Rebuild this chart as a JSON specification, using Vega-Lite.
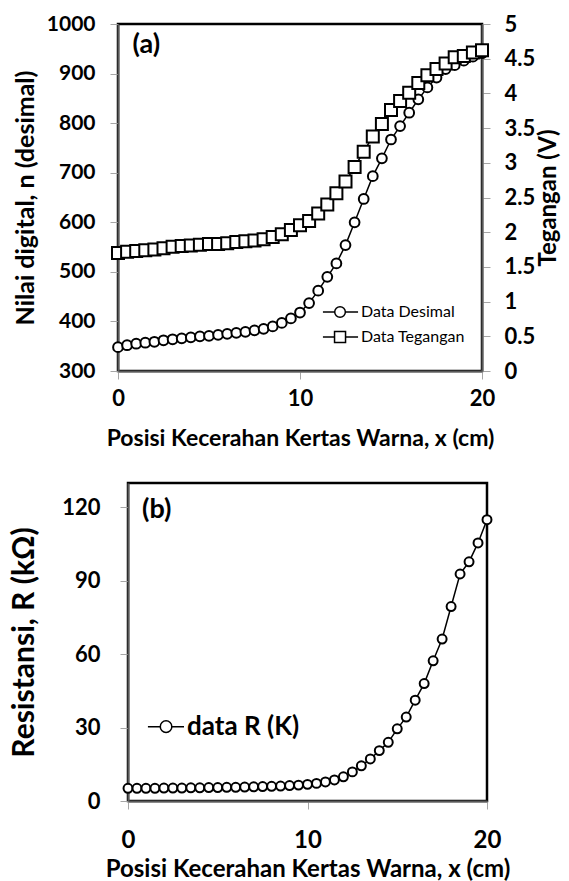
{
  "$schema": "https://vega.github.io/schema/vega-lite/v6.json",
  "padding": {"left": 8, "top": 11, "right": 0, "bottom": 0},
  "background": "white",
  "config": {
    "view": {"stroke": "#000", "strokeWidth": 2.5},
    "font": "Lato",
    "axis": {
      "labelFont": "Lato", "labelFontWeight": "bold", "labelColor": "#000",
      "titleFont": "Lato", "titleFontWeight": "bold", "titleColor": "#000",
      "domainColor": "#595959", "domainWidth": 2,
      "tickColor": "#a6a6a6", "tickWidth": 1, "tickSize": 8,
      "grid": false, "labelOverlap": false, "labelFlush": false
    }
  },
  "datasets": {
    "desimal": [
      {"x": 0, "n": 348}, {"x": 0.5, "n": 352}, {"x": 1, "n": 355}, {"x": 1.5, "n": 357},
      {"x": 2, "n": 359}, {"x": 2.5, "n": 362}, {"x": 3, "n": 364}, {"x": 3.5, "n": 366},
      {"x": 4, "n": 368}, {"x": 4.5, "n": 370}, {"x": 5, "n": 371}, {"x": 5.5, "n": 373},
      {"x": 6, "n": 375}, {"x": 6.5, "n": 377}, {"x": 7, "n": 379}, {"x": 7.5, "n": 382},
      {"x": 8, "n": 385}, {"x": 8.5, "n": 390}, {"x": 9, "n": 397}, {"x": 9.5, "n": 406},
      {"x": 10, "n": 418}, {"x": 10.5, "n": 437}, {"x": 11, "n": 462}, {"x": 11.5, "n": 490},
      {"x": 12, "n": 517}, {"x": 12.5, "n": 554}, {"x": 13, "n": 600}, {"x": 13.5, "n": 647},
      {"x": 14, "n": 693}, {"x": 14.5, "n": 729}, {"x": 15, "n": 767}, {"x": 15.5, "n": 794},
      {"x": 16, "n": 821}, {"x": 16.5, "n": 848}, {"x": 17, "n": 872}, {"x": 17.5, "n": 892},
      {"x": 18, "n": 909}, {"x": 18.5, "n": 917}, {"x": 19, "n": 926}, {"x": 19.5, "n": 934},
      {"x": 20, "n": 941}
    ],
    "tegangan": [
      {"x": 0, "v": 1.70}, {"x": 0.5, "v": 1.72}, {"x": 1, "v": 1.73}, {"x": 1.5, "v": 1.74},
      {"x": 2, "v": 1.75}, {"x": 2.5, "v": 1.77}, {"x": 3, "v": 1.79}, {"x": 3.5, "v": 1.80},
      {"x": 4, "v": 1.81}, {"x": 4.5, "v": 1.82}, {"x": 5, "v": 1.83}, {"x": 5.5, "v": 1.83},
      {"x": 6, "v": 1.84}, {"x": 6.5, "v": 1.86}, {"x": 7, "v": 1.87}, {"x": 7.5, "v": 1.88},
      {"x": 8, "v": 1.90}, {"x": 8.5, "v": 1.93}, {"x": 9, "v": 1.97}, {"x": 9.5, "v": 2.03},
      {"x": 10, "v": 2.10}, {"x": 10.5, "v": 2.16}, {"x": 11, "v": 2.27}, {"x": 11.5, "v": 2.40},
      {"x": 12, "v": 2.56}, {"x": 12.5, "v": 2.73}, {"x": 13, "v": 2.94}, {"x": 13.5, "v": 3.16},
      {"x": 14, "v": 3.38}, {"x": 14.5, "v": 3.56}, {"x": 15, "v": 3.76}, {"x": 15.5, "v": 3.89},
      {"x": 16, "v": 4.01}, {"x": 16.5, "v": 4.15}, {"x": 17, "v": 4.26}, {"x": 17.5, "v": 4.35},
      {"x": 18, "v": 4.43}, {"x": 18.5, "v": 4.52}, {"x": 19, "v": 4.54}, {"x": 19.5, "v": 4.59},
      {"x": 20, "v": 4.62}
    ],
    "resistansi": [
      {"x": 0, "r": 5.2}, {"x": 0.5, "r": 5.2}, {"x": 1, "r": 5.2}, {"x": 1.5, "r": 5.2},
      {"x": 2, "r": 5.3}, {"x": 2.5, "r": 5.3}, {"x": 3, "r": 5.3}, {"x": 3.5, "r": 5.4},
      {"x": 4, "r": 5.4}, {"x": 4.5, "r": 5.5}, {"x": 5, "r": 5.5}, {"x": 5.5, "r": 5.6},
      {"x": 6, "r": 5.6}, {"x": 6.5, "r": 5.7}, {"x": 7, "r": 5.8}, {"x": 7.5, "r": 5.9},
      {"x": 8, "r": 6.0}, {"x": 8.5, "r": 6.1}, {"x": 9, "r": 6.3}, {"x": 9.5, "r": 6.5},
      {"x": 10, "r": 6.8}, {"x": 10.5, "r": 7.2}, {"x": 11, "r": 7.8}, {"x": 11.5, "r": 8.6},
      {"x": 12, "r": 9.9}, {"x": 12.5, "r": 11.9}, {"x": 13, "r": 14.4}, {"x": 13.5, "r": 17.2},
      {"x": 14, "r": 20.6}, {"x": 14.5, "r": 24.0}, {"x": 15, "r": 29.5}, {"x": 15.5, "r": 34.3},
      {"x": 16, "r": 41.2}, {"x": 16.5, "r": 48.0}, {"x": 17, "r": 57.3}, {"x": 17.5, "r": 66.2},
      {"x": 18, "r": 79.5}, {"x": 18.5, "r": 92.8}, {"x": 19, "r": 97.8}, {"x": 19.5, "r": 105.5},
      {"x": 20, "r": 115.0}
    ]
  },
  "columns": 1,
  "spacing": 29,
  "concat": [
    {
      "width": 364,
      "height": 347,
      "encoding": {
        "x": {
          "field": "x", "type": "quantitative",
          "scale": {"domain": [0, 20], "nice": false, "zero": false},
          "axis": {
            "values": [0, 10, 20], "labelFontSize": 22, "labelPadding": 9,
            "title": "Posisi Kecerahan Kertas Warna, x (cm)", "titleFontSize": 23, "titlePadding": 18
          }
        }
      },
      "layer": [
        {
          "encoding": {
            "y": {
              "field": "n", "type": "quantitative",
              "scale": {"domain": [300, 1000], "nice": false, "zero": false},
              "axis": {
                "values": [300, 400, 500, 600, 700, 800, 900, 1000], "format": "d",
                "labelFontSize": 21, "labelPadding": 15,
                "title": "Nilai digital, n (desimal)", "titleFontSize": 25, "titlePadding": 8
              }
            }
          },
          "layer": [
            {
              "data": {"name": "desimal"},
              "mark": {"type": "line", "color": "#000", "strokeWidth": 1.5}
            },
            {
              "data": {"name": "desimal"},
              "mark": {"type": "point", "shape": "circle", "filled": true, "fill": "#fff", "stroke": "#000", "strokeWidth": 2, "size": 95, "opacity": 1}
            },
            {
              "data": {"name": "desimal"},
              "transform": [{"filter": "datum.x === 0"}],
              "mark": {"type": "text", "text": "(a)", "font": "Lato", "fontWeight": "bold", "fontSize": 27, "align": "left", "baseline": "middle", "color": "#000"},
              "encoding": {"x": {"datum": 0.8}, "y": {"datum": 958}}
            },
            {
              "data": {"name": "desimal"},
              "transform": [{"filter": "datum.x === 0"}],
              "mark": {"type": "rule", "color": "#000", "strokeWidth": 1.5},
              "encoding": {"x": {"datum": 11.26}, "x2": {"datum": 13.19}, "y": {"datum": 419}}
            },
            {
              "data": {"name": "desimal"},
              "transform": [{"filter": "datum.x === 0"}],
              "mark": {"type": "point", "shape": "circle", "filled": true, "fill": "#fff", "stroke": "#000", "strokeWidth": 1.5, "size": 113, "opacity": 1},
              "encoding": {"x": {"datum": 12.2}, "y": {"datum": 419}}
            },
            {
              "data": {"name": "desimal"},
              "transform": [{"filter": "datum.x === 0"}],
              "mark": {"type": "text", "text": "Data Desimal", "font": "Lato", "fontSize": 16, "align": "left", "baseline": "middle", "color": "#000"},
              "encoding": {"x": {"datum": 13.35}, "y": {"datum": 419}}
            },
            {
              "data": {"name": "desimal"},
              "transform": [{"filter": "datum.x === 0"}],
              "mark": {"type": "rule", "color": "#000", "strokeWidth": 1.5},
              "encoding": {"x": {"datum": 11.26}, "x2": {"datum": 13.19}, "y": {"datum": 368.6}}
            },
            {
              "data": {"name": "desimal"},
              "transform": [{"filter": "datum.x === 0"}],
              "mark": {"type": "point", "shape": "square", "filled": true, "fill": "#fff", "stroke": "#000", "strokeWidth": 1.5, "size": 121, "opacity": 1},
              "encoding": {"x": {"datum": 12.2}, "y": {"datum": 368.6}}
            },
            {
              "data": {"name": "desimal"},
              "transform": [{"filter": "datum.x === 0"}],
              "mark": {"type": "text", "text": "Data Tegangan", "font": "Lato", "fontSize": 16, "align": "left", "baseline": "middle", "color": "#000"},
              "encoding": {"x": {"datum": 13.35}, "y": {"datum": 368.6}}
            }
          ]
        },
        {
          "encoding": {
            "y": {
              "field": "v", "type": "quantitative",
              "scale": {"domain": [0, 5], "nice": false, "zero": false},
              "axis": {
                "orient": "right",
                "values": [0, 0.5, 1, 1.5, 2, 2.5, 3, 3.5, 4, 4.5, 5], "format": "~g", "labelOverlap": false,
                "labelFontSize": 22, "labelPadding": 14,
                "title": "Tegangan (V)", "titleFontSize": 24, "titlePadding": 2, "titleAngle": 270, "titleBaseline": "top"
              }
            }
          },
          "layer": [
            {
              "data": {"name": "tegangan"},
              "mark": {"type": "line", "color": "#000", "strokeWidth": 1.5}
            },
            {
              "data": {"name": "tegangan"},
              "mark": {"type": "point", "shape": "square", "filled": true, "fill": "#fff", "stroke": "#000", "strokeWidth": 2, "size": 144, "opacity": 1}
            }
          ]
        }
      ],
      "resolve": {"scale": {"y": "independent"}}
    },
    {
      "bounds": "flush",
      "spacing": 9,
      "hconcat": [
        {
          "width": 1,
          "height": 318,
          "view": {"stroke": null},
          "data": {"name": "resistansi"},
          "mark": {"type": "point", "opacity": 0}
        },
        {
          "width": 359,
          "height": 318,
          "encoding": {
            "x": {
              "field": "x", "type": "quantitative",
              "scale": {"domain": [0, 20], "nice": false, "zero": false},
              "axis": {
                "values": [0, 10, 20], "labelFontSize": 24, "labelPadding": 19,
                "title": "Posisi Kecerahan Kertas Warna, x (cm)", "titleFontSize": 24, "titlePadding": 5
              }
            },
            "y": {
              "field": "r", "type": "quantitative",
              "scale": {"domain": [0, 130], "nice": false, "zero": false},
              "axis": {
                "values": [0, 30, 60, 90, 120],
                "labelFontSize": 22, "labelPadding": 20,
                "title": "Resistansi, R (kΩ)", "titleFontSize": 30, "titlePadding": 22
              }
            }
          },
          "layer": [
            {
              "data": {"name": "resistansi"},
              "mark": {"type": "line", "color": "#000", "strokeWidth": 1.5}
            },
            {
              "data": {"name": "resistansi"},
              "mark": {"type": "point", "shape": "circle", "filled": true, "fill": "#fff", "stroke": "#000", "strokeWidth": 2, "size": 80, "opacity": 1}
            },
            {
              "data": {"name": "resistansi"},
              "transform": [{"filter": "datum.x === 0"}],
              "mark": {"type": "text", "text": "(b)", "font": "Lato", "fontWeight": "bold", "fontSize": 27, "align": "left", "baseline": "middle", "color": "#000"},
              "encoding": {"x": {"datum": 0.78}, "y": {"datum": 119}}
            },
            {
              "data": {"name": "resistansi"},
              "transform": [{"filter": "datum.x === 0"}],
              "mark": {"type": "rule", "color": "#000", "strokeWidth": 1.5},
              "encoding": {"x": {"datum": 1.11}, "x2": {"datum": 3.12}, "y": {"datum": 30.4}}
            },
            {
              "data": {"name": "resistansi"},
              "transform": [{"filter": "datum.x === 0"}],
              "mark": {"type": "point", "shape": "circle", "filled": true, "fill": "#fff", "stroke": "#000", "strokeWidth": 1.5, "size": 133, "opacity": 1},
              "encoding": {"x": {"datum": 2.12}, "y": {"datum": 30.4}}
            },
            {
              "data": {"name": "resistansi"},
              "transform": [{"filter": "datum.x === 0"}],
              "mark": {"type": "text", "text": "data R (K)", "font": "Lato", "fontWeight": "bold", "fontSize": 26, "align": "left", "baseline": "middle", "color": "#000"},
              "encoding": {"x": {"datum": 3.29}, "y": {"datum": 30.4}}
            }
          ]
        }
      ]
    }
  ]
}
